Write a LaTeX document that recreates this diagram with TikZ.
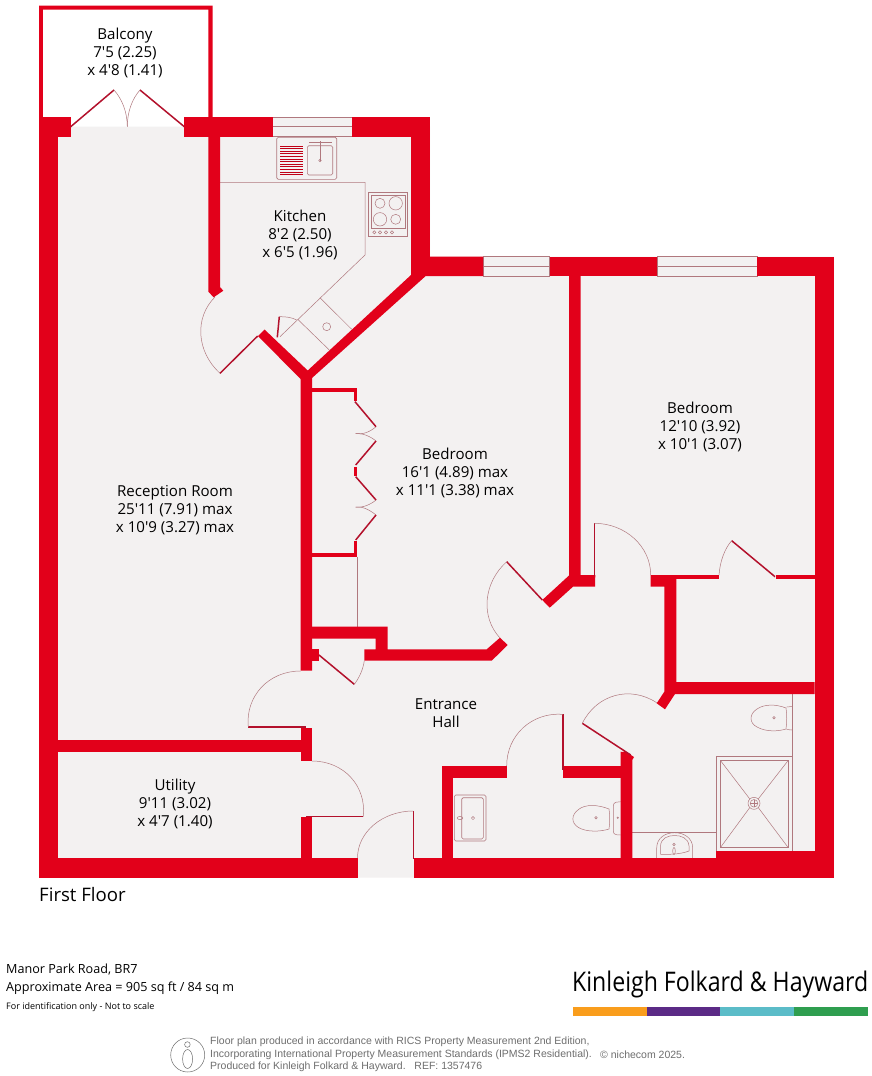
\documentclass[tikz,border=0pt]{standalone}
\usepackage{fontspec}
\setmainfont{Open Sans}[Ligatures=TeXOff]
\newfontfamily\greyfont{Liberation Sans}
\usetikzlibrary{calc}
\definecolor{wallred}{HTML}{E2001A}
\definecolor{leafred}{HTML}{B3112C}
\definecolor{floorgrey}{HTML}{F3F1F1}
\definecolor{fineline}{HTML}{B0787E}
\definecolor{notegrey}{HTML}{6E6E6E}
\definecolor{barorange}{HTML}{F99D1C}
\definecolor{barpurple}{HTML}{5B2A86}
\definecolor{barteal}{HTML}{5BBCC8}
\definecolor{bargreen}{HTML}{2F9E4F}
\tikzset{
  wall/.style={fill=wallred,draw=none},
  leaf/.style={draw=leafred,line width=1.5pt},
  fine/.style={draw=fineline,line width=0.5pt},
  glass/.style={fill=floorgrey,draw=fineline,line width=0.5pt},
  fix/.style={draw=fineline,line width=0.6pt,rounded corners=1.5pt},
  label/.style={font=\fontsize{15.1}{18}\selectfont,align=center,text=black,inner sep=0pt},
  foot/.style={anchor=west,inner sep=0pt,text=black},
  note/.style={anchor=west,inner sep=0pt,text=notegrey,font=\greyfont\fontsize{10.5}{12}\selectfont}
}
\newcommand\doorarc[3]{\draw[fine] (#2) .. controls ($(#2)+0.5523*(#3)-0.5523*(#1)$) and ($(#3)+0.5523*(#2)-0.5523*(#1)$) .. (#3);}
\newcommand\winpane[3]{\path[glass] (#1,#2) rectangle (#3,#2+19.5);\draw[fine] (#1,#2+9.7) -- (#3,#2+9.7);}
\begin{document}
\begin{tikzpicture}[x=1pt,y=-1pt]
\useasboundingbox (0,0) rectangle (872,1076);
\fill[white] (0,0) rectangle (872,1076);
% floor
\fill[floorgrey] (39,126.7) -- (430,126.7) -- (430,256.7) -- (834,256.7) -- (834,877.7) -- (39,877.7) -- cycle;
% windows
\winpane{272.7}{117}{352}
\winpane{483}{256.7}{549.5}
\winpane{657}{256.7}{757}
% kitchen fittings
\draw[fine] (220,182.3) -- (365,182.3) -- (365,255) -- (280,336.7);
\draw[fine] (320,297.7) -- (351.7,329.3);
\draw[fine] (297.7,319.3) -- (329.3,350);
\draw[fine] (326.7,326.7) circle (4);
\draw[fix] (276.7,137.3) rectangle (336.7,179.3);
\draw[fix] (307.3,145.7) rectangle (332.7,175);
\foreach \yy in {146,148.6,151.2,153.8,156.4,159,161.6,164.2,166.8,169.4,172,174.6}
  \draw[draw=wallred!85!black,line width=0.7pt] (280,\yy) -- (302.7,\yy);
\draw[draw=fineline,line width=0.8pt] (320,141) -- (320,161);
\draw[draw=fineline,line width=0.8pt] (309,142) -- (332,142);
\draw[fine] (320,160.5) circle (1.3);
\draw[fine] (368.7,192.3) rectangle (407.7,236.7);
\draw[fine] (371,195) rectangle (405.7,228);
\draw[fine] (380,203.3) circle (5);
\draw[fine] (395.7,203.3) circle (6.7);
\draw[fine] (380,219.3) circle (6.7);
\draw[fine] (395.7,219.3) circle (5);
\foreach \xx in {374.3,380,386,392} \draw[fine] (\xx,232.3) circle (1.6);
% wardrobe
\draw[fine] (357.3,557) -- (357.3,626.7);
\draw[fine] (355.7,433.5) .. controls (362,435) and (370,432) .. (376,426.7);
\draw[fine] (355.7,433.5) .. controls (362,433) and (370,436) .. (376,441);
\draw[fine] (355.7,507) .. controls (362,508) and (370,505) .. (376,500);
\draw[fine] (355.7,507) .. controls (362,506) and (370,510) .. (376,515);
% bathroom fittings
\draw[fine] (792,694) -- (792,851);
\draw[fine] (632,832) -- (716.3,832);
\draw[fine] (716.3,851) -- (716.3,756.3) -- (792,756.3);
\draw[fine] (720.3,760.3) rectangle (788.3,847.7);
\draw[fine] (720.3,760.3) -- (749.8,799);
\draw[fine] (788.3,760.3) -- (758.2,799);
\draw[fine] (720.3,847.7) -- (749.8,807.5);
\draw[fine] (788.3,847.7) -- (758.2,807.5);
\draw[fine,fill=floorgrey] (754,803.3) circle (6);
\draw[fine] (754,803.3) circle (3.8);
\draw[fine] (750.2,803.3) -- (757.8,803.3) (754,799.5) -- (754,807.1);
% bath toilet
\draw[fine] (786.7,707) -- (792,706.5) (786.7,729.5) -- (792,730);
\draw[fine] (786,708) .. controls (776,704) and (764,704) .. (757,709) .. controls (749,714) and (749,723) .. (757,727) .. controls (766,732) and (778,731.5) .. (786,729) .. controls (787,722) and (787,714) .. (786,708) -- cycle;
\draw[fine] (774,717.7) circle (1.2);
% bath basin
\draw[fine] (656.7,858) -- (656.7,848) .. controls (656.7,838) and (665,832.7) .. (674.7,832.7) .. controls (684,832.7) and (692.7,838) .. (692.7,848) -- (692.7,858);
\draw[fine] (660.5,854.3) -- (660.5,846) .. controls (661,838) and (668,835.5) .. (674.7,835.5) .. controls (681,835.5) and (688.5,838) .. (689,846) -- (689,851) .. controls (680,854.5) and (668,854.5) .. (660.5,854.3);
\draw[fine] (674,844.5) circle (1.3);
\draw[fine] (674,851) ellipse (1.3 and 3.5);
% hall toilet
\draw[fine,rounded corners=3pt] (620.7,801.7) -- (613.3,802.5) -- (613.3,834.5) -- (620.7,835);
\draw[fine] (609,809) .. controls (598,804.5) and (585,804) .. (578.5,809.5) .. controls (571,815) and (571,823) .. (578.5,827.5) .. controls (586,832) and (600,832) .. (609,829) .. controls (610,823) and (610,815) .. (609,809) -- cycle;
\draw[fine] (596,817.7) circle (1.2);
\draw[fine] (617.7,817.7) circle (0.8);
% hall basin
\draw[fix] (454.3,795) rectangle (486,841);
\draw[fix] (461.7,797.7) rectangle (483.3,839);
\draw[fine] (460,818) ellipse (2.8 and 1.6);
\draw[fine] (473,818) circle (1.6);
% balcony (white) outline
\path[wall] (39,5.7) -- (212.7,5.7) -- (212.7,117) -- (208.3,117) -- (208.3,9.7) -- (42.8,9.7) -- (42.8,117) -- (39,117) -- cycle;
% walls
\path[wall] (39,117) rectangle (70.7,136.5);
\path[wall] (39,117) rectangle (58.4,877.7);
\path[wall] (184.3,117) rectangle (272.7,136.5);
\path[wall] (352,117) rectangle (430,136.5);
\path[wall] (411,117) rectangle (430,275);
\path[wall] (208.3,130) -- (220,130) -- (220,287) -- (223.3,290.7) -- (213.7,297.3) -- (208.3,291.7) -- cycle;
\path[wall] (411,275) -- (430,256.7) -- (483,256.7) -- (483,276) -- (425.7,276) -- (312,378) -- (312,670.7) -- (300.5,670.7) -- (300.5,379) -- (258,336) -- (264.5,329.5) -- (307.7,370.5) -- cycle;
\path[wall] (549.5,256.7) rectangle (657,276);
\path[wall] (757,256.7) rectangle (834,276);
\path[wall] (814.5,256.7) rectangle (834,877.7);
\path[wall] (569,270) -- (580.5,270) -- (580.5,575) -- (595.3,575) -- (595,586.7) -- (573,586.7) -- (549.7,607.7) -- (542.3,600) -- (569,575.5) -- cycle;
\path[wall] (39,858.3) rectangle (357.5,877.7);
\path[wall] (414,858.3) rectangle (834,877.7);
\path[wall] (716.3,850.7) rectangle (814.5,860);
\path[wall] (58,740) rectangle (300.5,751.7);
\path[wall] (300.5,728) rectangle (312,761);
\path[wall] (300.5,817.3) rectangle (312,860);
\path[wall] (312,626.7) -- (387.7,626.7) -- (387.7,649.3) -- (486.7,649.3) -- (500,637.7) -- (507.7,645) -- (491.7,660.7) -- (364.3,660.7) -- (364.3,649.3) -- (375.7,649.3) -- (375.7,638.7) -- (312,638.7) -- cycle;
\path[wall] (312,649.3) rectangle (319,660.7);
\path[wall] (312,387.7) rectangle (357.3,391.7);
\path[wall] (354,387.7) rectangle (357.3,400.7);
\path[wall] (354,466.7) rectangle (357.3,475.7);
\path[wall] (354,541) rectangle (357.3,557.3);
\path[wall] (312,553.3) rectangle (357.3,557.3);
\path[wall] (442.3,766) rectangle (453.3,860);
\path[wall] (442.3,766) rectangle (506.7,778);
\path[wall] (563.3,766) rectangle (632.3,777.8);
\path[wall] (620.7,751.7) -- (623,752) -- (625,751) -- (631,755) -- (634,757) -- (632.3,760) -- (632.3,860) -- (620.7,860) -- cycle;
\path[wall] (650.7,575) -- (676.3,575) -- (676.3,682) -- (814.5,682) -- (814.5,694) -- (675,694) -- (665,709.3) -- (656.7,703.3) -- (664.3,691.7) -- (664.3,586.7) -- (650.7,586.7) -- cycle;
\path[wall] (664.3,575) rectangle (719,579);
\path[wall] (776,575) rectangle (815,579);
% door leaves
\draw[leaf] (70.7,126.7) -- (114,90);
\draw[leaf] (184.3,126.7) -- (140,90);
\draw[leaf] (220,373.3) -- (257.7,336);
\draw[leaf] (279.3,316.7) -- (277.3,337.3);
\draw[leaf] (355,401.7) -- (376,426.7);
\draw[leaf] (376,441) -- (355.7,465);
\draw[leaf] (355.7,476.7) -- (376,500);
\draw[leaf] (376,515) -- (355.7,540);
\draw[leaf] (319,655) -- (354.3,684.3);
\draw[leaf] (506.7,561.7) -- (542.3,600);
\draw[leaf] (594.3,523.3) -- (594.3,576);
\draw[leaf] (731.7,540.7) -- (775,576.7);
\draw[leaf] (248.3,727) -- (306,727);
\draw[leaf] (306,816.5) -- (363.3,816.5);
\draw[leaf] (413.3,811) -- (413.3,858.5);
\draw[leaf] (562.8,714.3) -- (562.8,770);
\draw[leaf] (582.3,723.3) -- (630.7,755);
% door swings
\draw[fine] (114,90) .. controls (122,99) and (127.3,112) .. (127.3,126.7);
\draw[fine] (140,90) .. controls (132,99) and (127.3,112) .. (127.3,126.7);
\draw[fine] (279.3,316.7) .. controls (286,316.5) and (292,317.5) .. (296.7,320);
\doorarc{257.7,336}{220,373.3}{215,297}
\doorarc{306,727}{248.3,727}{300.5,671}
\doorarc{306,816.5}{363.3,816.5}{312,761}
\doorarc{413.3,858}{413.3,811}{357.5,858}
\doorarc{542.3,600}{506.7,561.7}{500,638}
\doorarc{594.3,575}{594.3,523.3}{650.7,575}
\doorarc{563,770}{562.8,714.3}{506.7,766}
\doorarc{630.7,755}{582.3,723.3}{656.7,702.7}
\draw[fine] (354.3,684.3) .. controls (359,678) and (363,670) .. (364.3,660.7);
\draw[fine] (731.7,540.7) .. controls (725,548) and (720,561) .. (719,575);
% room labels
\node[label] (balcony) at (125,53) {Balcony\\7'5 (2.25)\\x 4'8 (1.41)};
\node[label] (kitchen) at (300,234.5) {Kitchen\\8'2 (2.50)\\x 6'5 (1.96)};
\node[label] (bedA) at (455,473) {Bedroom\\16'1 (4.89) max\\x 11'1 (3.38) max};
\node[label] (bedB) at (700,427) {Bedroom\\12'10 (3.92)\\x 10'1 (3.07)};
\node[label] (reception) at (175,510) {Reception Room\\25'11 (7.91) max\\x 10'9 (3.27) max};
\node[label] (utility) at (175,804) {Utility\\9'11 (3.02)\\x 4'7 (1.40)};
\node[label] (hall) at (446,713) {Entrance\\Hall};
\node[foot,font=\fontsize{18.6}{20}\selectfont] (floor) at (39,895) {First Floor};
% footer
\node[foot,font=\fontsize{12.6}{14}\selectfont] (addr) at (6,970) {Manor Park Road, BR7};
\node[foot,font=\fontsize{12.6}{14}\selectfont] (area) at (6,988.5) {Approximate Area = 905 sq ft / 84 sq m};
\node[foot,font=\fontsize{9}{11}\selectfont] (ident) at (6,1007.5) {For identification only - Not to scale};
\node[foot,font=\fontsize{27}{30}\selectfont] (brand) at (572,984) {\resizebox{296pt}{\height}{Kinleigh Folkard \& Hayward}};
\fill[fill=barorange] (572.5,1007) rectangle (646.5,1016);
\fill[fill=barpurple] (646.5,1007) rectangle (720,1016);
\fill[fill=barteal] (720,1007) rectangle (793.5,1016);
\fill[fill=bargreen] (793.5,1007) rectangle (867.5,1016);
\draw[draw=notegrey,line width=0.5pt] (187.7,1055) circle (17);
\draw[draw=notegrey,line width=0.5pt] (187.4,1044.5) circle (2.8);
\draw[draw=notegrey,line width=0.5pt] (187.6,1059) ellipse (5 and 9.5);
\node[note] (noteA) at (210,1042) {Floor plan produced in accordance with RICS Property Measurement 2nd Edition,};
\node[note] (noteB) at (210,1054.5) {Incorporating International Property Measurement Standards (IPMS2 Residential).};
\node[note] (noteC) at (600,1054.5) {© nichecom 2025.};
\node[note] (noteD) at (210,1067) {Produced for Kinleigh Folkard \& Hayward.\ \ \ REF: 1357476};
\end{tikzpicture}
\end{document}
